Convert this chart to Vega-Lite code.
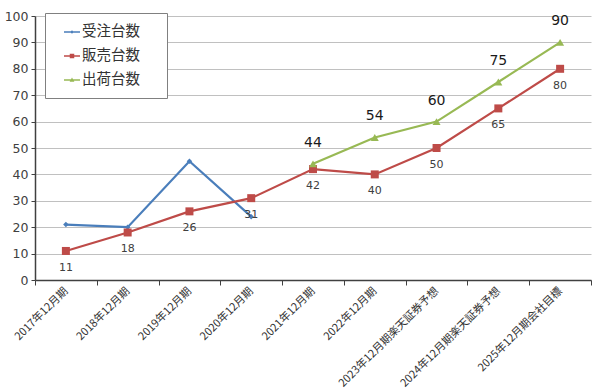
{
  "$schema": "https://vega.github.io/schema/vega-lite/v6.json",
  "width": 556,
  "height": 264,
  "autosize": "none",
  "padding": {"left": 35, "top": 16, "right": 9, "bottom": 112},
  "background": "white",
  "config": {
    "font": "Noto Sans CJK JP",
    "view": {"stroke": null}
  },
  "data": {
    "values": [
      {"period": "2017年12月期", "series": "受注台数", "value": 21},
      {"period": "2018年12月期", "series": "受注台数", "value": 20},
      {"period": "2019年12月期", "series": "受注台数", "value": 45},
      {"period": "2020年12月期", "series": "受注台数", "value": 24},
      {"period": "2017年12月期", "series": "販売台数", "value": 11},
      {"period": "2018年12月期", "series": "販売台数", "value": 18},
      {"period": "2019年12月期", "series": "販売台数", "value": 26},
      {"period": "2020年12月期", "series": "販売台数", "value": 31},
      {"period": "2021年12月期", "series": "販売台数", "value": 42},
      {"period": "2022年12月期", "series": "販売台数", "value": 40},
      {"period": "2023年12月期楽天証券予想", "series": "販売台数", "value": 50},
      {"period": "2024年12月期楽天証券予想", "series": "販売台数", "value": 65},
      {"period": "2025年12月期会社目標", "series": "販売台数", "value": 80},
      {"period": "2021年12月期", "series": "出荷台数", "value": 44},
      {"period": "2022年12月期", "series": "出荷台数", "value": 54},
      {"period": "2023年12月期楽天証券予想", "series": "出荷台数", "value": 60},
      {"period": "2024年12月期楽天証券予想", "series": "出荷台数", "value": 75},
      {"period": "2025年12月期会社目標", "series": "出荷台数", "value": 90}
    ]
  },
  "encoding": {
    "x": {
      "field": "period",
      "type": "nominal",
      "sort": ["2017年12月期", "2018年12月期", "2019年12月期", "2020年12月期", "2021年12月期", "2022年12月期", "2023年12月期楽天証券予想", "2024年12月期楽天証券予想", "2025年12月期会社目標"],
      "scale": {"type": "band", "paddingInner": 0, "paddingOuter": 0},
      "axis": {
        "title": null,
        "tickBand": "extent",
        "labelAngle": -45,
        "labelAlign": "right",
        "labelBaseline": "middle",
        "labelFontSize": 11,
        "labelColor": "#333333",
        "labelPadding": 4,
        "domainColor": "#404040",
        "domainWidth": 1.5,
        "tickColor": "#404040",
        "tickSize": 5,
        "labelLimit": 300
      }
    },
    "y": {
      "field": "value",
      "type": "quantitative",
      "scale": {"domain": [0, 100], "nice": false},
      "axis": {
        "title": null,
        "values": [0, 10, 20, 30, 40, 50, 60, 70, 80, 90, 100],
        "labelFontSize": 12.5,
        "labelColor": "#404040",
        "labelFont": "DejaVu Sans",
        "gridColor": "#c0c0c0",
        "domainColor": "#404040",
        "domainWidth": 1.5,
        "tickColor": "#404040",
        "tickSize": 4,
        "labelPadding": 3
      }
    }
  },
  "layer": [
    {
      "transform": [{"filter": "datum.series === '受注台数'"}],
      "mark": {"type": "line", "strokeWidth": 2.2, "color": "#4a7ebb", "point": {"shape": "diamond", "size": 30, "filled": true, "color": "#4a7ebb"}},
      "encoding": {}
    },
    {
      "transform": [{"filter": "datum.series === '販売台数'"}],
      "mark": {"type": "line", "strokeWidth": 2.2, "color": "#be4b48", "point": {"shape": "square", "size": 64, "filled": true, "color": "#be4b48"}},
      "encoding": {}
    },
    {
      "transform": [{"filter": "datum.series === '出荷台数'"}],
      "mark": {"type": "line", "strokeWidth": 2.2, "color": "#98b954", "point": {"shape": "triangle-up", "size": 64, "filled": true, "color": "#98b954"}},
      "encoding": {}
    },
    {
      "mark": {"type": "point", "filled": true, "opacity": 0},
      "encoding": {
        "fill": {
          "field": "series",
          "type": "nominal",
          "scale": {"domain": ["受注台数", "販売台数", "出荷台数"], "range": ["#4a7ebb", "#be4b48", "#98b954"]},
          "legend": {
            "title": "・",
            "titleColor": "white",
            "titleOrient": "right",
            "titleFontSize": 12,
            "titlePadding": 3,
            "orient": "none",
            "legendX": 10,
            "legendY": -3,
            "symbolSize": 256,
            "symbolOpacity": 1,
            "symbolStrokeWidth": 0,
            "labelFontSize": 14.5,
            "labelColor": "#333333",
            "labelOffset": 2,
            "rowPadding": 9,
            "padding": 11,
            "strokeColor": "#808080",
            "fillColor": "white",
            "symbolOffset": 8
          }
        },
        "shape": {
          "field": "series",
          "type": "nominal",
          "scale": {
            "domain": ["受注台数", "販売台数", "出荷台数"],
            "range": [
              "M-1,-0.08H1V0.08H-1Z M0,-0.22L0.22,0L0,0.22L-0.22,0Z",
              "M-1,-0.09H1V0.09H-1Z M-0.28,-0.28H0.28V0.28H-0.28Z",
              "M-1,-0.09H1V0.09H-1Z M0,-0.3L0.3,0.22H-0.3Z"
            ]
          },
          "legend": {
            "title": "・",
            "titleColor": "white",
            "titleOrient": "right",
            "titleFontSize": 12,
            "titlePadding": 3,
            "orient": "none",
            "legendX": 10,
            "legendY": -3,
            "symbolSize": 256,
            "symbolOpacity": 1,
            "symbolStrokeWidth": 0,
            "labelFontSize": 14.5,
            "labelColor": "#333333",
            "labelOffset": 2,
            "rowPadding": 9,
            "padding": 11,
            "strokeColor": "#808080",
            "fillColor": "white",
            "symbolOffset": 8
          }
        }
      }
    },
    {
      "transform": [{"filter": "datum.series === '販売台数'"}],
      "mark": {"type": "text", "dy": 17, "fontSize": 11, "color": "#404040", "font": "DejaVu Sans"},
      "encoding": {"text": {"field": "value", "type": "quantitative"}}
    },
    {
      "transform": [{"filter": "datum.series === '出荷台数'"}],
      "mark": {"type": "text", "dy": -21, "fontSize": 14, "color": "#1a1a1a", "font": "DejaVu Sans"},
      "encoding": {"text": {"field": "value", "type": "quantitative"}}
    }
  ]
}
